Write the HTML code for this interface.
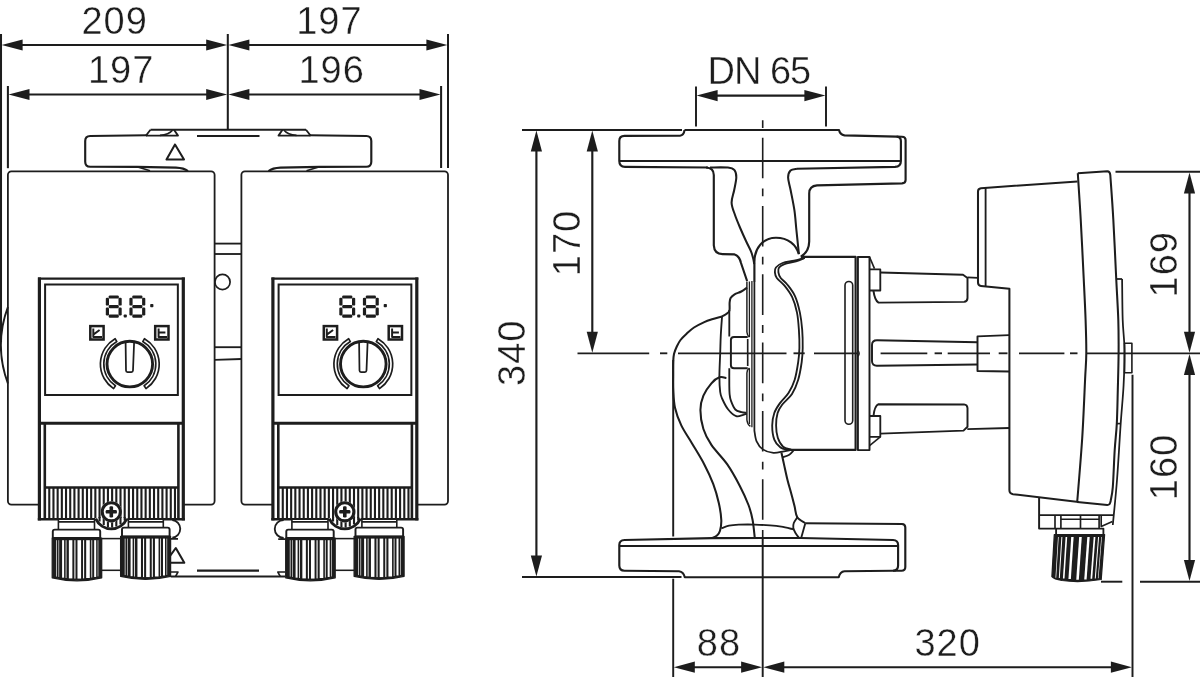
<!DOCTYPE html>
<html><head><meta charset="utf-8"><title>Dimension drawing</title>
<style>
html,body{margin:0;padding:0;background:#fff;}
svg{display:block}
text{font-family:"Liberation Sans",sans-serif;fill:#1d1d1b;stroke:#fff;stroke-width:0.4px;paint-order:fill stroke}
</style></head>
<body>
<svg width="1200" height="677" viewBox="0 0 1200 677" stroke="#1d1d1b" fill="none" stroke-linecap="butt" stroke-linejoin="round" style="filter:grayscale(1)">
<rect x="0" y="0" width="1200" height="677" fill="#fff" stroke="none"/>
<line x1="1" y1="34" x2="1" y2="342" stroke-width="2.05" />
<line x1="7.9" y1="86" x2="7.9" y2="168.2" stroke-width="2.05" />
<line x1="227.8" y1="34" x2="227.8" y2="130" stroke-width="2.05" />
<line x1="441.1" y1="86" x2="441.1" y2="168" stroke-width="2.05" />
<line x1="448" y1="34" x2="448" y2="168" stroke-width="2.05" />
<line x1="21.0" y1="45" x2="207.8" y2="45" stroke-width="2.15" />
<polygon points="1.60,45.00 22.60,39.40 22.60,50.60" fill="#1d1d1b" stroke="none"/>
<polygon points="227.20,45.00 206.20,39.40 206.20,50.60" fill="#1d1d1b" stroke="none"/>
<line x1="247.8" y1="45" x2="428.0" y2="45" stroke-width="2.15" />
<polygon points="228.40,45.00 249.40,39.40 249.40,50.60" fill="#1d1d1b" stroke="none"/>
<polygon points="447.40,45.00 426.40,39.40 426.40,50.60" fill="#1d1d1b" stroke="none"/>
<line x1="27.9" y1="94.5" x2="207.8" y2="94.5" stroke-width="2.15" />
<polygon points="8.50,94.50 29.50,88.90 29.50,100.10" fill="#1d1d1b" stroke="none"/>
<polygon points="227.20,94.50 206.20,88.90 206.20,100.10" fill="#1d1d1b" stroke="none"/>
<line x1="247.8" y1="94.5" x2="421.1" y2="94.5" stroke-width="2.15" />
<polygon points="228.40,94.50 249.40,88.90 249.40,100.10" fill="#1d1d1b" stroke="none"/>
<polygon points="440.50,94.50 419.50,88.90 419.50,100.10" fill="#1d1d1b" stroke="none"/>
<text x="114.6" y="33.6" font-size="38" text-anchor="middle" letter-spacing="1.0">209</text>
<text x="329.4" y="33.6" font-size="38" text-anchor="middle" letter-spacing="1.0">197</text>
<text x="121.2" y="83.3" font-size="38" text-anchor="middle" letter-spacing="1.0">197</text>
<text x="331.7" y="83.3" font-size="38" text-anchor="middle" letter-spacing="1.0">196</text>
<path d="M 147,135.3 L 90.2,136 Q 85.2,136 85.2,141 L 85.2,161.7 Q 85.2,166.7 90.2,166.7 L 137,166.8 L 176,167.6 Q 184,168 188,171" stroke-width="2.15" fill="none" />
<path d="M 137,166.8 L 150,170.8" stroke-width="1.65" fill="none" />
<path d="M 146,135.5 L 150.5,129.8 M 146,135.6 L 178,135.6 L 174,129.8" stroke-width="1.85" fill="none" />
<path d="M 160,135.4 Q 169,134.5 172.5,130.2" stroke-width="1.65" fill="none" />
<path d="M 309.5,135.3 L 366.3,136 Q 371.3,136 371.3,141 L 371.3,161.7 Q 371.3,166.7 366.3,166.7 L 319.5,166.8 L 280.5,167.6 Q 272.5,168 268.5,171" stroke-width="2.15" fill="none" />
<path d="M 319.5,166.8 L 306.5,170.8" stroke-width="1.65" fill="none" />
<path d="M 310.5,135.5 L 306.0,129.8 M 310.5,135.6 L 278.5,135.6 L 282.5,129.8" stroke-width="1.85" fill="none" />
<path d="M 296.5,135.4 Q 287.5,134.5 284.0,130.2" stroke-width="1.65" fill="none" />
<line x1="150.5" y1="129.8" x2="306" y2="129.8" stroke-width="2.05" />
<line x1="197" y1="136" x2="259.5" y2="136" stroke-width="2.05" />
<path d="M 175,144.5 L 166.5,159.5 L 184,159.5 Z" stroke-width="2.05" fill="none" />
<line x1="214.6" y1="243.6" x2="241.5" y2="243.6" stroke-width="1.85" />
<line x1="214.6" y1="254" x2="241.5" y2="254" stroke-width="1.85" />
<line x1="214.6" y1="347.2" x2="241.5" y2="347.2" stroke-width="1.85" />
<line x1="214.6" y1="359.8" x2="241.5" y2="359" stroke-width="1.85" />
<circle cx="222.5" cy="282" r="7.6" stroke-width="1.7"/>
<rect x="7.9" y="171.3" width="206.7" height="333.3" rx="3.5" fill="#fff" stroke-width="1.8"/>
<rect x="241.4" y="171.3" width="206.6" height="333.3" rx="3.5" fill="#fff" stroke-width="1.8"/>
<path d="M 7.9,307 Q -6.2,345 7.9,383.5" stroke-width="1.95" fill="none" />
<line x1="197" y1="570.6" x2="259" y2="570.6" stroke-width="2.05" />
<line x1="170.7" y1="576.5" x2="285" y2="576.5" stroke-width="2.05" />
<path d="M 170.7,572 L 178,572 L 175.5,576.5" stroke-width="1.55" fill="none" />
<path d="M 285,572 L 277.8,572 L 280.3,576.5" stroke-width="1.55" fill="none" />
<path d="M 175.8,548 L 184.3,562.8 L 165,562.8 Z" stroke-width="2.05" fill="none" />
<path d="M 172.3,520 A 8.9 8.9 0 0 1 172.3,537.7 M 170.7,538.9 L 178,538.9" stroke-width="1.85" fill="none" />
<path d="M 283.7,520 A 8.9 8.9 0 0 0 283.7,537.9 M 285.5,539.1 L 278.2,539.1" stroke-width="1.85" fill="none" />
<line x1="100.5" y1="538.6" x2="121.8" y2="538.6" stroke-width="1.55" />
<line x1="101.5" y1="570.3" x2="120.8" y2="570.3" stroke-width="1.55" />
<line x1="334.0" y1="538.6" x2="355.3" y2="538.6" stroke-width="1.55" />
<line x1="335.0" y1="570.3" x2="354.3" y2="570.3" stroke-width="1.55" />
<g transform="translate(0 0)">
<rect x="39.4" y="278.7" width="143.9" height="240.6" fill="#fff" stroke="none"/>
<line x1="39.4" y1="277.4" x2="39.4" y2="520.4" stroke-width="3.2" />
<line x1="183.3" y1="277.4" x2="183.3" y2="520.4" stroke-width="3.2" />
<line x1="38" y1="278.7" x2="184.8" y2="278.7" stroke-width="2.2" />
<rect x="45.1" y="284.5" width="132.75" height="110.5" stroke-width="2.0" stroke-linejoin="miter"/>
<line x1="39" y1="423.3" x2="184" y2="423.3" stroke-width="3.0" />
<line x1="44.8" y1="423" x2="44.8" y2="519.3" stroke-width="2.6" />
<line x1="178.4" y1="423" x2="178.4" y2="519.3" stroke-width="2.6" />
<line x1="44" y1="487.5" x2="179" y2="487.5" stroke-width="2.6" />
<rect x="48.22" y="487.5" width="2.1" height="30.8" fill="#1d1d1b" stroke="none"/>
<rect x="52.41" y="487.5" width="2.1" height="30.8" fill="#1d1d1b" stroke="none"/>
<rect x="56.60" y="487.5" width="2.1" height="30.8" fill="#1d1d1b" stroke="none"/>
<rect x="60.79" y="487.5" width="2.1" height="30.8" fill="#1d1d1b" stroke="none"/>
<rect x="64.98" y="487.5" width="2.1" height="30.8" fill="#1d1d1b" stroke="none"/>
<rect x="69.17" y="487.5" width="2.1" height="30.8" fill="#1d1d1b" stroke="none"/>
<rect x="73.36" y="487.5" width="2.1" height="30.8" fill="#1d1d1b" stroke="none"/>
<rect x="77.55" y="487.5" width="2.1" height="30.8" fill="#1d1d1b" stroke="none"/>
<rect x="81.74" y="487.5" width="2.1" height="30.8" fill="#1d1d1b" stroke="none"/>
<rect x="85.93" y="487.5" width="2.1" height="30.8" fill="#1d1d1b" stroke="none"/>
<rect x="90.12" y="487.5" width="2.1" height="30.8" fill="#1d1d1b" stroke="none"/>
<rect x="94.31" y="487.5" width="2.1" height="30.8" fill="#1d1d1b" stroke="none"/>
<rect x="98.50" y="487.5" width="2.1" height="30.8" fill="#1d1d1b" stroke="none"/>
<rect x="102.69" y="487.5" width="2.1" height="30.8" fill="#1d1d1b" stroke="none"/>
<rect x="106.88" y="487.5" width="2.1" height="30.8" fill="#1d1d1b" stroke="none"/>
<rect x="111.07" y="487.5" width="2.1" height="30.8" fill="#1d1d1b" stroke="none"/>
<rect x="115.26" y="487.5" width="2.1" height="30.8" fill="#1d1d1b" stroke="none"/>
<rect x="119.45" y="487.5" width="2.1" height="30.8" fill="#1d1d1b" stroke="none"/>
<rect x="123.64" y="487.5" width="2.1" height="30.8" fill="#1d1d1b" stroke="none"/>
<rect x="127.83" y="487.5" width="2.1" height="30.8" fill="#1d1d1b" stroke="none"/>
<rect x="132.02" y="487.5" width="2.1" height="30.8" fill="#1d1d1b" stroke="none"/>
<rect x="136.21" y="487.5" width="2.1" height="30.8" fill="#1d1d1b" stroke="none"/>
<rect x="140.40" y="487.5" width="2.1" height="30.8" fill="#1d1d1b" stroke="none"/>
<rect x="144.59" y="487.5" width="2.1" height="30.8" fill="#1d1d1b" stroke="none"/>
<rect x="148.78" y="487.5" width="2.1" height="30.8" fill="#1d1d1b" stroke="none"/>
<rect x="152.97" y="487.5" width="2.1" height="30.8" fill="#1d1d1b" stroke="none"/>
<rect x="157.16" y="487.5" width="2.1" height="30.8" fill="#1d1d1b" stroke="none"/>
<rect x="161.35" y="487.5" width="2.1" height="30.8" fill="#1d1d1b" stroke="none"/>
<rect x="165.54" y="487.5" width="2.1" height="30.8" fill="#1d1d1b" stroke="none"/>
<rect x="169.73" y="487.5" width="2.1" height="30.8" fill="#1d1d1b" stroke="none"/>
<rect x="173.92" y="487.5" width="2.1" height="30.8" fill="#1d1d1b" stroke="none"/>
<path d="M 95,518 L 95,521 A 17 17 0 0 0 127.6,521 L 127.6,518 Z" fill="#fff" stroke="none"/>
<path d="M 95.7,518.6 A 17 17 0 0 0 126.9,518.6" stroke-width="2.8" fill="none" />
<rect x="98.50" y="517" width="2.1" height="4.5" fill="#1d1d1b" stroke="none"/>
<rect x="102.69" y="517" width="2.1" height="8.0" fill="#1d1d1b" stroke="none"/>
<rect x="106.88" y="517" width="2.1" height="10.0" fill="#1d1d1b" stroke="none"/>
<rect x="111.07" y="517" width="2.1" height="10.6" fill="#1d1d1b" stroke="none"/>
<rect x="115.26" y="517" width="2.1" height="9.6" fill="#1d1d1b" stroke="none"/>
<rect x="119.45" y="517" width="2.1" height="7.4" fill="#1d1d1b" stroke="none"/>
<rect x="123.64" y="517" width="2.1" height="3.5" fill="#1d1d1b" stroke="none"/>
<circle cx="111.3" cy="511.8" r="10.6" fill="#fff" stroke="none"/>
<circle cx="111.3" cy="511.8" r="9.1" stroke-width="3.1"/>
<rect x="105.7" y="510.0" width="11.2" height="3.6" rx="1.2" fill="#1d1d1b" stroke="none"/><rect x="109.5" y="506.2" width="3.6" height="11.2" rx="1.2" fill="#1d1d1b" stroke="none"/>
<line x1="37.8" y1="519.2" x2="95.3" y2="519.2" stroke-width="2.6" />
<line x1="127.3" y1="519.2" x2="184.9" y2="519.2" stroke-width="2.6" />
<g fill="#1d1d1b" stroke="none"><rect x="108.68" y="295.40" width="10.14" height="3.2" rx="1.2"/><rect x="108.68" y="304.95" width="10.14" height="3.2" rx="1.2"/><rect x="108.68" y="314.50" width="10.14" height="3.2" rx="1.2"/><rect x="105.80" y="297.64" width="3.2" height="7.95" rx="1.2"/><rect x="105.80" y="307.51" width="3.2" height="7.95" rx="1.2"/><rect x="118.50" y="297.64" width="3.2" height="7.95" rx="1.2"/><rect x="118.50" y="307.51" width="3.2" height="7.95" rx="1.2"/></g>
<g fill="#1d1d1b" stroke="none"><rect x="132.28" y="295.40" width="10.14" height="3.2" rx="1.2"/><rect x="132.28" y="304.95" width="10.14" height="3.2" rx="1.2"/><rect x="132.28" y="314.50" width="10.14" height="3.2" rx="1.2"/><rect x="129.40" y="297.64" width="3.2" height="7.95" rx="1.2"/><rect x="129.40" y="307.51" width="3.2" height="7.95" rx="1.2"/><rect x="142.10" y="297.64" width="3.2" height="7.95" rx="1.2"/><rect x="142.10" y="307.51" width="3.2" height="7.95" rx="1.2"/></g>
<rect x="123.7" y="314.4" width="3.1" height="3.1" rx="0.8" fill="#1d1d1b" stroke="none"/>
<rect x="150.2" y="304" width="3.2" height="3.2" rx="0.8" fill="#1d1d1b" stroke="none"/>
<rect x="90.3" y="326.1" width="13.3" height="13.4" stroke-width="2.5" stroke-linejoin="miter"/>
<path d="M 93.3,328.6 L 93.3,337 L 102,337 M 93.6,334.4 L 99.6,330" stroke-width="1.95" fill="none" />
<rect x="155.2" y="326.1" width="13.3" height="13.4" stroke-width="2.5" stroke-linejoin="miter"/>
<path d="M 158.6,328.6 L 158.6,337 L 167,337 M 158.6,332.4 L 165.4,332.4" stroke-width="1.95" fill="none" />
<circle cx="129.8" cy="364.1" r="22.8" stroke-width="2.9"/>
<path d="M 125.6,342.5 L 126,370.5 Q 126,372 127.5,372 L 131.4,372 Q 132.9,372 133,370.5 L 134.1,342.5" stroke-width="1.75" fill="none" />
<path d="M 115.10,338.64 A 29.4 29.4 0 0 0 113.57,388.62 L 115.45,385.78 A 26.0 26.0 0 0 1 116.80,341.58 Z" stroke-width="1.7" fill="#fff" />
<path d="M 144.50,338.64 A 29.4 29.4 0 0 1 146.03,388.62 L 144.15,385.78 A 26.0 26.0 0 0 0 142.80,341.58 Z" stroke-width="1.7" fill="#fff" />
<rect x="58.4" y="519.3" width="36.10" height="11.30" fill="#fff" stroke-width="1.6"/>
<line x1="58.4" y1="521.9" x2="94.5" y2="521.9" stroke-width="1.85" />
<path d="M 52.8,538.0 L 52.8,531.6 Q 52.8,529.6 54.8,529.6 L 98.2,529.6 Q 100.2,529.6 100.2,531.6 L 100.2,538.0 Z" stroke-width="1.95" fill="#fff" />
<path d="M 52.2,538.0 L 101.7,538.0 L 101.7,577.8 Q 76.95,583.8 52.2,577.8 Z" stroke-width="1.25" fill="#1d1d1b" />
<rect x="56.30" y="540.20" width="0.7" height="36.38" fill="#fff" stroke="none"/>
<rect x="58.53" y="540.20" width="0.6" height="36.79" fill="#fff" stroke="none"/>
<rect x="62.09" y="540.20" width="2.0" height="37.46" fill="#fff" stroke="none"/>
<rect x="65.66" y="540.20" width="0.8" height="37.82" fill="#fff" stroke="none"/>
<rect x="68.86" y="540.20" width="3.5" height="38.20" fill="#fff" stroke="none"/>
<rect x="74.37" y="540.20" width="1.1" height="38.38" fill="#fff" stroke="none"/>
<rect x="77.48" y="540.20" width="3.6" height="38.37" fill="#fff" stroke="none"/>
<rect x="83.03" y="540.20" width="1.1" height="38.18" fill="#fff" stroke="none"/>
<rect x="86.19" y="540.20" width="3.6" height="37.80" fill="#fff" stroke="none"/>
<rect x="91.40" y="540.20" width="0.8" height="37.32" fill="#fff" stroke="none"/>
<rect x="94.17" y="540.20" width="2.0" height="36.77" fill="#fff" stroke="none"/>
<rect x="97.69" y="540.20" width="0.6" height="36.23" fill="#fff" stroke="none"/>
<rect x="128.4" y="519.3" width="34.90" height="9.30" fill="#fff" stroke-width="1.6"/>
<line x1="128.4" y1="521.9" x2="163.3" y2="521.9" stroke-width="1.85" />
<path d="M 122.0,536.4 L 122.0,529.6 Q 122.0,527.6 124.0,527.6 L 167.6,527.6 Q 169.6,527.6 169.6,529.6 L 169.6,536.4 Z" stroke-width="1.95" fill="#fff" />
<path d="M 120.6,536.4 L 170.6,536.4 L 170.6,576.3 Q 145.6,582.3 120.6,576.3 Z" stroke-width="1.25" fill="#1d1d1b" />
<rect x="124.75" y="538.60" width="0.7" height="36.48" fill="#fff" stroke="none"/>
<rect x="127.00" y="538.60" width="0.6" height="36.89" fill="#fff" stroke="none"/>
<rect x="130.60" y="538.60" width="2.0" height="37.56" fill="#fff" stroke="none"/>
<rect x="134.20" y="538.60" width="0.8" height="37.92" fill="#fff" stroke="none"/>
<rect x="137.45" y="538.60" width="3.5" height="38.30" fill="#fff" stroke="none"/>
<rect x="143.00" y="538.60" width="1.1" height="38.48" fill="#fff" stroke="none"/>
<rect x="146.15" y="538.60" width="3.6" height="38.47" fill="#fff" stroke="none"/>
<rect x="151.75" y="538.60" width="1.1" height="38.28" fill="#fff" stroke="none"/>
<rect x="154.95" y="538.60" width="3.6" height="37.90" fill="#fff" stroke="none"/>
<rect x="160.20" y="538.60" width="0.8" height="37.42" fill="#fff" stroke="none"/>
<rect x="163.00" y="538.60" width="2.0" height="36.87" fill="#fff" stroke="none"/>
<rect x="166.55" y="538.60" width="0.6" height="36.33" fill="#fff" stroke="none"/>
</g>
<g transform="translate(233.5 0)">
<rect x="39.4" y="278.7" width="143.9" height="240.6" fill="#fff" stroke="none"/>
<line x1="39.4" y1="277.4" x2="39.4" y2="520.4" stroke-width="3.2" />
<line x1="183.3" y1="277.4" x2="183.3" y2="520.4" stroke-width="3.2" />
<line x1="38" y1="278.7" x2="184.8" y2="278.7" stroke-width="2.2" />
<rect x="45.1" y="284.5" width="132.75" height="110.5" stroke-width="2.0" stroke-linejoin="miter"/>
<line x1="39" y1="423.3" x2="184" y2="423.3" stroke-width="3.0" />
<line x1="44.8" y1="423" x2="44.8" y2="519.3" stroke-width="2.6" />
<line x1="178.4" y1="423" x2="178.4" y2="519.3" stroke-width="2.6" />
<line x1="44" y1="487.5" x2="179" y2="487.5" stroke-width="2.6" />
<rect x="48.22" y="487.5" width="2.1" height="30.8" fill="#1d1d1b" stroke="none"/>
<rect x="52.41" y="487.5" width="2.1" height="30.8" fill="#1d1d1b" stroke="none"/>
<rect x="56.60" y="487.5" width="2.1" height="30.8" fill="#1d1d1b" stroke="none"/>
<rect x="60.79" y="487.5" width="2.1" height="30.8" fill="#1d1d1b" stroke="none"/>
<rect x="64.98" y="487.5" width="2.1" height="30.8" fill="#1d1d1b" stroke="none"/>
<rect x="69.17" y="487.5" width="2.1" height="30.8" fill="#1d1d1b" stroke="none"/>
<rect x="73.36" y="487.5" width="2.1" height="30.8" fill="#1d1d1b" stroke="none"/>
<rect x="77.55" y="487.5" width="2.1" height="30.8" fill="#1d1d1b" stroke="none"/>
<rect x="81.74" y="487.5" width="2.1" height="30.8" fill="#1d1d1b" stroke="none"/>
<rect x="85.93" y="487.5" width="2.1" height="30.8" fill="#1d1d1b" stroke="none"/>
<rect x="90.12" y="487.5" width="2.1" height="30.8" fill="#1d1d1b" stroke="none"/>
<rect x="94.31" y="487.5" width="2.1" height="30.8" fill="#1d1d1b" stroke="none"/>
<rect x="98.50" y="487.5" width="2.1" height="30.8" fill="#1d1d1b" stroke="none"/>
<rect x="102.69" y="487.5" width="2.1" height="30.8" fill="#1d1d1b" stroke="none"/>
<rect x="106.88" y="487.5" width="2.1" height="30.8" fill="#1d1d1b" stroke="none"/>
<rect x="111.07" y="487.5" width="2.1" height="30.8" fill="#1d1d1b" stroke="none"/>
<rect x="115.26" y="487.5" width="2.1" height="30.8" fill="#1d1d1b" stroke="none"/>
<rect x="119.45" y="487.5" width="2.1" height="30.8" fill="#1d1d1b" stroke="none"/>
<rect x="123.64" y="487.5" width="2.1" height="30.8" fill="#1d1d1b" stroke="none"/>
<rect x="127.83" y="487.5" width="2.1" height="30.8" fill="#1d1d1b" stroke="none"/>
<rect x="132.02" y="487.5" width="2.1" height="30.8" fill="#1d1d1b" stroke="none"/>
<rect x="136.21" y="487.5" width="2.1" height="30.8" fill="#1d1d1b" stroke="none"/>
<rect x="140.40" y="487.5" width="2.1" height="30.8" fill="#1d1d1b" stroke="none"/>
<rect x="144.59" y="487.5" width="2.1" height="30.8" fill="#1d1d1b" stroke="none"/>
<rect x="148.78" y="487.5" width="2.1" height="30.8" fill="#1d1d1b" stroke="none"/>
<rect x="152.97" y="487.5" width="2.1" height="30.8" fill="#1d1d1b" stroke="none"/>
<rect x="157.16" y="487.5" width="2.1" height="30.8" fill="#1d1d1b" stroke="none"/>
<rect x="161.35" y="487.5" width="2.1" height="30.8" fill="#1d1d1b" stroke="none"/>
<rect x="165.54" y="487.5" width="2.1" height="30.8" fill="#1d1d1b" stroke="none"/>
<rect x="169.73" y="487.5" width="2.1" height="30.8" fill="#1d1d1b" stroke="none"/>
<rect x="173.92" y="487.5" width="2.1" height="30.8" fill="#1d1d1b" stroke="none"/>
<path d="M 95,518 L 95,521 A 17 17 0 0 0 127.6,521 L 127.6,518 Z" fill="#fff" stroke="none"/>
<path d="M 95.7,518.6 A 17 17 0 0 0 126.9,518.6" stroke-width="2.8" fill="none" />
<rect x="98.50" y="517" width="2.1" height="4.5" fill="#1d1d1b" stroke="none"/>
<rect x="102.69" y="517" width="2.1" height="8.0" fill="#1d1d1b" stroke="none"/>
<rect x="106.88" y="517" width="2.1" height="10.0" fill="#1d1d1b" stroke="none"/>
<rect x="111.07" y="517" width="2.1" height="10.6" fill="#1d1d1b" stroke="none"/>
<rect x="115.26" y="517" width="2.1" height="9.6" fill="#1d1d1b" stroke="none"/>
<rect x="119.45" y="517" width="2.1" height="7.4" fill="#1d1d1b" stroke="none"/>
<rect x="123.64" y="517" width="2.1" height="3.5" fill="#1d1d1b" stroke="none"/>
<circle cx="111.3" cy="511.8" r="10.6" fill="#fff" stroke="none"/>
<circle cx="111.3" cy="511.8" r="9.1" stroke-width="3.1"/>
<rect x="105.7" y="510.0" width="11.2" height="3.6" rx="1.2" fill="#1d1d1b" stroke="none"/><rect x="109.5" y="506.2" width="3.6" height="11.2" rx="1.2" fill="#1d1d1b" stroke="none"/>
<line x1="37.8" y1="519.2" x2="95.3" y2="519.2" stroke-width="2.6" />
<line x1="127.3" y1="519.2" x2="184.9" y2="519.2" stroke-width="2.6" />
<g fill="#1d1d1b" stroke="none"><rect x="108.68" y="295.40" width="10.14" height="3.2" rx="1.2"/><rect x="108.68" y="304.95" width="10.14" height="3.2" rx="1.2"/><rect x="108.68" y="314.50" width="10.14" height="3.2" rx="1.2"/><rect x="105.80" y="297.64" width="3.2" height="7.95" rx="1.2"/><rect x="105.80" y="307.51" width="3.2" height="7.95" rx="1.2"/><rect x="118.50" y="297.64" width="3.2" height="7.95" rx="1.2"/><rect x="118.50" y="307.51" width="3.2" height="7.95" rx="1.2"/></g>
<g fill="#1d1d1b" stroke="none"><rect x="132.28" y="295.40" width="10.14" height="3.2" rx="1.2"/><rect x="132.28" y="304.95" width="10.14" height="3.2" rx="1.2"/><rect x="132.28" y="314.50" width="10.14" height="3.2" rx="1.2"/><rect x="129.40" y="297.64" width="3.2" height="7.95" rx="1.2"/><rect x="129.40" y="307.51" width="3.2" height="7.95" rx="1.2"/><rect x="142.10" y="297.64" width="3.2" height="7.95" rx="1.2"/><rect x="142.10" y="307.51" width="3.2" height="7.95" rx="1.2"/></g>
<rect x="123.7" y="314.4" width="3.1" height="3.1" rx="0.8" fill="#1d1d1b" stroke="none"/>
<rect x="150.2" y="304" width="3.2" height="3.2" rx="0.8" fill="#1d1d1b" stroke="none"/>
<rect x="90.3" y="326.1" width="13.3" height="13.4" stroke-width="2.5" stroke-linejoin="miter"/>
<path d="M 93.3,328.6 L 93.3,337 L 102,337 M 93.6,334.4 L 99.6,330" stroke-width="1.95" fill="none" />
<rect x="155.2" y="326.1" width="13.3" height="13.4" stroke-width="2.5" stroke-linejoin="miter"/>
<path d="M 158.6,328.6 L 158.6,337 L 167,337 M 158.6,332.4 L 165.4,332.4" stroke-width="1.95" fill="none" />
<circle cx="129.8" cy="364.1" r="22.8" stroke-width="2.9"/>
<path d="M 125.6,342.5 L 126,370.5 Q 126,372 127.5,372 L 131.4,372 Q 132.9,372 133,370.5 L 134.1,342.5" stroke-width="1.75" fill="none" />
<path d="M 115.10,338.64 A 29.4 29.4 0 0 0 113.57,388.62 L 115.45,385.78 A 26.0 26.0 0 0 1 116.80,341.58 Z" stroke-width="1.7" fill="#fff" />
<path d="M 144.50,338.64 A 29.4 29.4 0 0 1 146.03,388.62 L 144.15,385.78 A 26.0 26.0 0 0 0 142.80,341.58 Z" stroke-width="1.7" fill="#fff" />
<rect x="58.4" y="519.3" width="36.10" height="11.30" fill="#fff" stroke-width="1.6"/>
<line x1="58.4" y1="521.9" x2="94.5" y2="521.9" stroke-width="1.85" />
<path d="M 52.8,538.0 L 52.8,531.6 Q 52.8,529.6 54.8,529.6 L 98.2,529.6 Q 100.2,529.6 100.2,531.6 L 100.2,538.0 Z" stroke-width="1.95" fill="#fff" />
<path d="M 52.2,538.0 L 101.7,538.0 L 101.7,577.8 Q 76.95,583.8 52.2,577.8 Z" stroke-width="1.25" fill="#1d1d1b" />
<rect x="56.30" y="540.20" width="0.7" height="36.38" fill="#fff" stroke="none"/>
<rect x="58.53" y="540.20" width="0.6" height="36.79" fill="#fff" stroke="none"/>
<rect x="62.09" y="540.20" width="2.0" height="37.46" fill="#fff" stroke="none"/>
<rect x="65.66" y="540.20" width="0.8" height="37.82" fill="#fff" stroke="none"/>
<rect x="68.86" y="540.20" width="3.5" height="38.20" fill="#fff" stroke="none"/>
<rect x="74.37" y="540.20" width="1.1" height="38.38" fill="#fff" stroke="none"/>
<rect x="77.48" y="540.20" width="3.6" height="38.37" fill="#fff" stroke="none"/>
<rect x="83.03" y="540.20" width="1.1" height="38.18" fill="#fff" stroke="none"/>
<rect x="86.19" y="540.20" width="3.6" height="37.80" fill="#fff" stroke="none"/>
<rect x="91.40" y="540.20" width="0.8" height="37.32" fill="#fff" stroke="none"/>
<rect x="94.17" y="540.20" width="2.0" height="36.77" fill="#fff" stroke="none"/>
<rect x="97.69" y="540.20" width="0.6" height="36.23" fill="#fff" stroke="none"/>
<rect x="128.4" y="519.3" width="34.90" height="9.30" fill="#fff" stroke-width="1.6"/>
<line x1="128.4" y1="521.9" x2="163.3" y2="521.9" stroke-width="1.85" />
<path d="M 122.0,536.4 L 122.0,529.6 Q 122.0,527.6 124.0,527.6 L 167.6,527.6 Q 169.6,527.6 169.6,529.6 L 169.6,536.4 Z" stroke-width="1.95" fill="#fff" />
<path d="M 120.6,536.4 L 170.6,536.4 L 170.6,576.3 Q 145.6,582.3 120.6,576.3 Z" stroke-width="1.25" fill="#1d1d1b" />
<rect x="124.75" y="538.60" width="0.7" height="36.48" fill="#fff" stroke="none"/>
<rect x="127.00" y="538.60" width="0.6" height="36.89" fill="#fff" stroke="none"/>
<rect x="130.60" y="538.60" width="2.0" height="37.56" fill="#fff" stroke="none"/>
<rect x="134.20" y="538.60" width="0.8" height="37.92" fill="#fff" stroke="none"/>
<rect x="137.45" y="538.60" width="3.5" height="38.30" fill="#fff" stroke="none"/>
<rect x="143.00" y="538.60" width="1.1" height="38.48" fill="#fff" stroke="none"/>
<rect x="146.15" y="538.60" width="3.6" height="38.47" fill="#fff" stroke="none"/>
<rect x="151.75" y="538.60" width="1.1" height="38.28" fill="#fff" stroke="none"/>
<rect x="154.95" y="538.60" width="3.6" height="37.90" fill="#fff" stroke="none"/>
<rect x="160.20" y="538.60" width="0.8" height="37.42" fill="#fff" stroke="none"/>
<rect x="163.00" y="538.60" width="2.0" height="36.87" fill="#fff" stroke="none"/>
<rect x="166.55" y="538.60" width="0.6" height="36.33" fill="#fff" stroke="none"/>
</g>
<line x1="522" y1="130" x2="682" y2="130" stroke-width="1.95" />
<line x1="522" y1="577" x2="681.5" y2="577" stroke-width="1.95" />
<line x1="536.4" y1="150.0" x2="536.4" y2="557.0" stroke-width="2.15" />
<polygon points="536.40,130.60 530.80,151.60 542.00,151.60" fill="#1d1d1b" stroke="none"/>
<polygon points="536.40,576.40 530.80,555.40 542.00,555.40" fill="#1d1d1b" stroke="none"/>
<line x1="592.3" y1="150.0" x2="592.3" y2="333.3" stroke-width="2.15" />
<polygon points="592.30,130.60 586.70,151.60 597.90,151.60" fill="#1d1d1b" stroke="none"/>
<polygon points="592.30,352.70 586.70,331.70 597.90,331.70" fill="#1d1d1b" stroke="none"/>
<text x="524.6" y="352.7" font-size="38" text-anchor="middle" letter-spacing="1.0" transform="rotate(-90 524.6 352.7)">340</text>
<text x="580.2" y="243.0" font-size="38" text-anchor="middle" letter-spacing="1.0" transform="rotate(-90 580.2 243.0)">170</text>
<line x1="696" y1="86.4" x2="696" y2="126.6" stroke-width="1.95" />
<line x1="826" y1="86.4" x2="826" y2="126.6" stroke-width="1.95" />
<line x1="716.0" y1="95.6" x2="806.0" y2="95.6" stroke-width="2.15" />
<polygon points="696.60,95.60 717.60,90.00 717.60,101.20" fill="#1d1d1b" stroke="none"/>
<polygon points="825.40,95.60 804.40,90.00 804.40,101.20" fill="#1d1d1b" stroke="none"/>
<text x="758.9" y="84.0" font-size="38" text-anchor="middle" letter-spacing="-1.0">DN 65</text>
<line x1="577.5" y1="353.3" x2="649.2" y2="353.3" stroke-width="1.85" />
<line x1="660" y1="353.3" x2="667.3" y2="353.3" stroke-width="1.85" />
<line x1="678" y1="353.3" x2="786.5" y2="353.3" stroke-width="1.85" />
<line x1="793.5" y1="353.3" x2="804.7" y2="353.3" stroke-width="1.85" />
<line x1="814" y1="353.3" x2="858" y2="353.3" stroke-width="1.85" />
<line x1="880.6" y1="353.3" x2="927.3" y2="353.3" stroke-width="1.85" />
<line x1="934.6" y1="353.3" x2="942" y2="353.3" stroke-width="1.85" />
<line x1="947.7" y1="353.3" x2="990" y2="353.3" stroke-width="1.85" />
<line x1="998.7" y1="353.3" x2="1007.5" y2="353.3" stroke-width="1.85" />
<line x1="1019" y1="353.3" x2="1064.4" y2="353.3" stroke-width="1.85" />
<line x1="1070" y1="353.3" x2="1077.5" y2="353.3" stroke-width="1.85" />
<line x1="1086" y1="353.3" x2="1200" y2="353.3" stroke-width="1.85" />
<line x1="762.7" y1="120.2" x2="762.7" y2="537.5" stroke-width="1.6" stroke-dasharray="7.8 9.7 40.6 10.2"/>
<line x1="762.7" y1="537" x2="762.7" y2="677" stroke-width="1.95" />
<line x1="673.2" y1="360" x2="673.2" y2="536.5" stroke-width="1.95" />
<line x1="673.2" y1="578.7" x2="673.2" y2="677" stroke-width="1.95" />
<line x1="1132.5" y1="374.7" x2="1132.5" y2="677" stroke-width="1.95" />
<line x1="693.2" y1="667.2" x2="742.7" y2="667.2" stroke-width="2.15" />
<polygon points="673.80,667.20 694.80,661.60 694.80,672.80" fill="#1d1d1b" stroke="none"/>
<polygon points="762.10,667.20 741.10,661.60 741.10,672.80" fill="#1d1d1b" stroke="none"/>
<line x1="782.7" y1="667.2" x2="1112.5" y2="667.2" stroke-width="2.15" />
<polygon points="763.30,667.20 784.30,661.60 784.30,672.80" fill="#1d1d1b" stroke="none"/>
<polygon points="1131.90,667.20 1110.90,661.60 1110.90,672.80" fill="#1d1d1b" stroke="none"/>
<text x="718.9" y="656.2" font-size="38" text-anchor="middle" letter-spacing="1.0">88</text>
<text x="947.6" y="656.2" font-size="38" text-anchor="middle" letter-spacing="1.0">320</text>
<line x1="1115.5" y1="171.8" x2="1200" y2="171.8" stroke-width="1.95" />
<line x1="1101" y1="581.7" x2="1122.3" y2="581.7" stroke-width="1.95" />
<line x1="1140" y1="581.7" x2="1200" y2="581.7" stroke-width="1.95" />
<line x1="1189.5" y1="191.8" x2="1189.5" y2="333.3" stroke-width="2.15" />
<polygon points="1189.50,172.40 1183.90,193.40 1195.10,193.40" fill="#1d1d1b" stroke="none"/>
<polygon points="1189.50,352.70 1183.90,331.70 1195.10,331.70" fill="#1d1d1b" stroke="none"/>
<line x1="1189.5" y1="373.3" x2="1189.5" y2="561.7" stroke-width="2.15" />
<polygon points="1189.50,353.90 1183.90,374.90 1195.10,374.90" fill="#1d1d1b" stroke="none"/>
<polygon points="1189.50,581.10 1183.90,560.10 1195.10,560.10" fill="#1d1d1b" stroke="none"/>
<text x="1177.0" y="264.3" font-size="38" text-anchor="middle" letter-spacing="1.0" transform="rotate(-90 1177.0 264.3)">169</text>
<text x="1177.0" y="467" font-size="38" text-anchor="middle" letter-spacing="1.0" transform="rotate(-90 1177.0 467)">160</text>
<path d="M 684.5,130 L 839,130 Q 840,134.6 844.5,135.4 L 896.7,136.6 Q 900.9,136.8 900.9,141 L 900.9,161 Q 900.9,166.6 895,166.9 L 797,168.7" stroke-width="2.15" fill="none" />
<path d="M 684.5,130 Q 684,135.2 680,135.7 L 624.5,135.9 Q 619.3,136 619.3,141 L 619.3,161 Q 619.3,166.8 625,166.8 L 708,167.5" stroke-width="2.15" fill="none" />
<line x1="619.3" y1="161" x2="900.2" y2="161" stroke-width="2.05" />
<path d="M 896.7,136.6 L 902,136.7 Q 905.6,136.8 905.6,140 L 905.6,180 Q 905.6,183.2 902,183.4 L 817,185.4 Q 809.2,186 809.2,193.5 L 809.2,241.5 Q 809,252 800.8,256.6" stroke-width="2.15" fill="none" />
<path d="M 706,167.5 Q 713.8,167.8 713.8,175 L 713.8,245.4 Q 714.3,254 722.5,254.1 L 734.6,254.4 Q 739.5,256 741,263 L 747.1,281" stroke-width="2.15" fill="none" />
<path d="M 710.00,167.50 C 712.98,167.52 723.82,167.15 727.90,167.60 C 731.98,168.05 733.10,168.53 734.50,170.20 C 735.90,171.87 736.35,174.30 736.30,177.60 C 736.25,180.90 734.98,185.82 734.20,190.00 C 733.42,194.18 731.47,198.53 731.60,202.70 C 731.73,206.87 733.53,210.70 735.00,215.00 C 736.47,219.30 738.57,224.17 740.40,228.50 C 742.23,232.83 744.25,237.23 746.00,241.00 C 747.75,244.77 749.70,248.18 750.90,251.10 C 752.10,254.02 752.65,256.35 753.20,258.50 C 753.75,260.65 754.03,263.08 754.20,264.00" stroke-width="2.05" fill="none" />
<path d="M 797.00,168.70 C 795.92,169.00 791.98,169.02 790.50,170.50 C 789.02,171.98 788.08,174.35 788.10,177.60 C 788.12,180.85 789.55,184.57 790.60,190.00 C 791.65,195.43 793.43,203.53 794.40,210.20 C 795.37,216.87 795.65,222.70 796.40,230.00 C 797.15,237.30 798.48,250.00 798.90,254.00" stroke-width="2.05" fill="none" />
<path d="M 754.4,282 L 754.4,262 C 754.4,248 763,237.7 776,237.7 C 788,237.7 796.3,244.5 798.9,254.3" stroke-width="2.15" fill="none" />
<path d="M 800.8,256.9 L 855.6,256.9 L 855.6,449.9 L 786,449.9" stroke-width="2.15" fill="none" />
<path d="M 857.9,256.9 L 869.5,256.9 L 869.5,450.1 L 857.9,450.1 Z" stroke-width="1.95" fill="none" />
<path d="M 857.9,350.3 Q 860.6,353.3 857.9,356.3" stroke-width="1.25" fill="none" />
<rect x="845" y="281.5" width="7.7" height="142.8" rx="3.8" stroke-width="1.6"/>
<path d="M 804.70,257.90 C 802.93,258.37 797.78,259.85 794.10,260.70 C 790.42,261.55 785.63,261.87 782.60,263.00 C 779.57,264.13 777.18,265.95 775.90,267.50 C 774.62,269.05 774.75,270.55 774.90,272.30 C 775.05,274.05 775.20,275.77 776.80,278.00 C 778.40,280.23 781.93,282.50 784.50,285.70 C 787.07,288.90 790.12,292.72 792.20,297.20 C 794.28,301.68 795.88,307.15 797.00,312.60 C 798.12,318.05 798.50,324.00 798.90,329.90 C 799.30,335.80 799.52,342.65 799.40,348.00 C 799.28,353.35 798.98,356.72 798.20,362.00 C 797.42,367.28 796.32,374.53 794.70,379.70 C 793.08,384.87 791.02,389.02 788.50,393.00 C 785.98,396.98 781.97,400.27 779.60,403.60 C 777.23,406.93 775.53,409.37 774.30,413.00 C 773.07,416.63 772.20,420.97 772.20,425.40 C 772.20,429.83 772.92,435.90 774.30,439.60 C 775.68,443.30 778.28,445.88 780.50,447.60 C 782.72,449.32 786.42,449.52 787.60,449.90" stroke-width="1.85" fill="none" />
<path d="M 804.70,257.90 C 803.25,258.47 799.37,260.25 796.00,261.30 C 792.63,262.35 787.32,263.17 784.50,264.20 C 781.68,265.23 780.12,266.15 779.10,267.50 C 778.08,268.85 778.13,270.55 778.40,272.30 C 778.67,274.05 779.20,275.93 780.70,278.00 C 782.20,280.07 785.00,281.65 787.40,284.70 C 789.80,287.75 793.02,291.65 795.10,296.30 C 797.18,300.95 798.72,307.00 799.90,312.60 C 801.08,318.20 801.73,324.00 802.20,329.90 C 802.67,335.80 802.78,342.65 802.70,348.00 C 802.62,353.35 802.45,356.72 801.70,362.00 C 800.95,367.28 799.82,374.38 798.20,379.70 C 796.58,385.02 794.65,389.77 792.00,393.90 C 789.35,398.03 784.70,401.32 782.30,404.50 C 779.90,407.68 778.63,409.52 777.60,413.00 C 776.57,416.48 776.07,421.27 776.10,425.40 C 776.13,429.53 776.63,434.25 777.80,437.80 C 778.97,441.35 780.88,444.73 783.10,446.70 C 785.32,448.67 789.77,449.12 791.10,449.60" stroke-width="1.85" fill="none" />
<line x1="751.9" y1="281" x2="751.9" y2="427.2" stroke-width="1.3" />
<path d="M 749.4,281.5 L 749.4,337 M 749.4,368.3 L 749.4,424" stroke-width="1.3" fill="none" />
<path d="M 746.9,281.5 L 746.9,332 Q 747.1,335.5 749.4,337.2 M 749.4,368 Q 747.1,369.5 746.9,373 L 746.9,420 Q 747.4,424.5 750.4,426.3" stroke-width="1.45" fill="none" />
<path d="M 754.4,282 L 754.4,430.8 L 754.40,430.80 C 754.77,432.57 755.20,438.30 756.60,441.40 C 758.00,444.50 760.00,447.48 762.80,449.40 C 765.60,451.32 769.87,452.58 773.40,452.90 C 776.93,453.22 780.90,451.80 784.00,451.30 C 787.10,450.80 790.67,450.13 792.00,449.90" stroke-width="1.75" fill="none" />
<path d="M 747.7,336.9 L 734,336.9 Q 730.9,336.9 730.9,340 L 730.9,365.2 Q 730.9,368.2 734,368.2 L 747.7,368.2" stroke-width="1.95" fill="none" />
<line x1="747.7" y1="339" x2="747.7" y2="366" stroke-width="1.65" />
<path d="M 747.10,287.60 C 746.13,288.25 743.38,290.38 741.30,291.50 C 739.22,292.62 736.38,293.22 734.60,294.30 C 732.82,295.38 731.43,296.55 730.60,298.00 C 729.77,299.45 729.80,300.88 729.60,303.00 C 729.40,305.12 730.00,308.83 729.40,310.70 C 728.80,312.57 727.38,313.18 726.00,314.20 C 724.62,315.22 721.92,316.37 721.10,316.80" stroke-width="2.05" fill="none" />
<line x1="729.3" y1="310" x2="729.3" y2="336.5" stroke-width="1.85" />
<path d="M 721.10,316.80 C 719.58,317.22 714.80,318.42 712.00,319.30 C 709.20,320.18 707.30,320.73 704.30,322.10 C 701.30,323.47 696.95,325.57 694.00,327.50 C 691.05,329.43 688.85,331.62 686.60,333.70 C 684.35,335.78 682.13,337.87 680.50,340.00 C 678.87,342.13 677.88,344.17 676.80,346.50 C 675.72,348.83 674.60,351.42 674.00,354.00 C 673.40,356.58 673.35,358.50 673.20,362.00 C 673.05,365.50 673.10,370.33 673.10,375.00 C 673.10,379.67 672.88,384.55 673.20,390.00 C 673.52,395.45 673.65,401.80 675.00,407.70 C 676.35,413.60 678.48,419.48 681.30,425.40 C 684.12,431.32 688.07,436.70 691.90,443.20 C 695.73,449.70 700.75,457.62 704.30,464.40 C 707.85,471.18 710.78,477.47 713.20,483.90 C 715.62,490.33 717.45,496.98 718.80,503.00 C 720.15,509.02 721.10,515.38 721.30,520.00 C 721.50,524.62 720.72,528.12 720.00,530.70 C 719.28,533.28 718.33,534.27 717.00,535.50 C 715.67,536.73 712.83,537.67 712.00,538.10" stroke-width="2.05" fill="none" />
<path d="M 722.00,317.00 C 721.80,320.00 721.10,329.00 720.80,335.00 C 720.50,341.00 720.43,346.13 720.20,353.00 C 719.97,359.87 719.40,369.70 719.40,376.20 C 719.40,382.70 719.72,388.20 720.20,392.00 C 720.68,395.80 720.97,396.08 722.30,399.00 C 723.63,401.92 725.88,406.63 728.20,409.50 C 730.52,412.37 733.68,415.32 736.20,416.20 C 738.72,417.08 741.53,415.23 743.30,414.80 C 745.07,414.37 746.22,413.80 746.80,413.60" stroke-width="1.85" fill="none" />
<path d="M 729.30,368.20 C 729.30,371.00 729.25,380.70 729.30,385.00 C 729.35,389.30 729.33,391.40 729.60,394.00 C 729.87,396.60 729.95,398.02 730.90,400.60 C 731.85,403.18 733.53,407.58 735.30,409.50 C 737.07,411.42 739.63,411.55 741.50,412.10 C 743.37,412.65 745.67,412.68 746.50,412.80" stroke-width="1.85" fill="none" />
<path d="M 726.40,378.00 C 725.23,377.88 721.90,376.42 719.40,377.30 C 716.90,378.18 714.07,380.23 711.40,383.30 C 708.73,386.37 705.23,391.27 703.40,395.70 C 701.57,400.13 700.40,404.35 700.40,409.90 C 700.40,415.45 701.57,423.17 703.40,429.00 C 705.23,434.83 707.42,439.00 711.40,444.90 C 715.38,450.80 722.58,457.60 727.30,464.40 C 732.02,471.20 736.17,478.93 739.70,485.70 C 743.23,492.47 746.35,499.28 748.50,505.00 C 750.65,510.72 751.57,514.62 752.60,520.00 C 753.63,525.38 754.35,534.42 754.70,537.30" stroke-width="2.05" fill="none" />
<path d="M 793.80,450.20 C 793.05,450.95 791.17,453.52 789.30,454.70 C 787.43,455.88 783.72,456.87 782.60,457.30" stroke-width="1.75" fill="none" />
<path d="M 781.40,452.50 C 781.83,454.48 782.98,459.82 784.00,464.40 C 785.02,468.98 786.32,475.23 787.50,480.00 C 788.68,484.77 789.93,488.67 791.10,493.00 C 792.27,497.33 793.47,501.95 794.50,506.00 C 795.53,510.05 795.50,514.47 797.30,517.30 C 799.10,520.13 803.97,522.05 805.30,523.00" stroke-width="2.05" fill="none" />
<path d="M 797.30,517.30 C 796.72,518.25 794.47,521.22 793.80,523.00 C 793.13,524.78 793.02,526.33 793.30,528.00 C 793.58,529.67 794.60,531.40 795.50,533.00 C 796.40,534.60 798.17,536.83 798.70,537.60" stroke-width="1.85" fill="none" />
<line x1="805.3" y1="523.2" x2="801.3" y2="537.6" stroke-width="1.85" />
<path d="M 721.30,528.40 C 722.58,527.95 726.10,526.32 729.00,525.70 C 731.90,525.08 734.42,524.88 738.70,524.70 C 742.98,524.52 749.48,524.48 754.70,524.60 C 759.92,524.72 765.57,525.05 770.00,525.40 C 774.43,525.75 777.42,526.05 781.30,526.70 C 785.18,527.35 791.30,528.87 793.30,529.30" stroke-width="1.85" fill="none" />
<path d="M 712,538.1 L 624.5,540 Q 619.3,540.2 619.3,545 L 619.3,565.5 Q 619.3,570.7 624.5,570.7 L 679,571.2 Q 683.5,571.8 684.8,577.2 L 838.7,577.2 Q 840,571.6 844.5,571.2 L 893,570.7 Q 898.1,570.7 898.1,565.5 L 898.1,545 Q 898.1,540.2 893,540 L 801,538 L 712,538.1" stroke-width="2.15" fill="none" />
<line x1="619.3" y1="545.9" x2="898.1" y2="545.9" stroke-width="2.05" />
<path d="M 805.3,523.2 L 902,524 Q 905.3,524.1 905.3,527.5 L 905.3,567 Q 905.3,570.7 901.5,570.7 L 893,570.7" stroke-width="2.15" fill="none" />
<path d="M 869.5,269.4 L 880.3,269.4 L 880.3,290.5 L 869.5,290.5" stroke-width="1.85" fill="none" />
<path d="M 869.5,257 L 874.5,268.6" stroke-width="1.65" fill="none" />
<path d="M 880.3,272.5 L 963,274.8 L 967.5,278 L 967.5,298.1 Q 967.3,301.6 964,301.9 L 878.5,302.6 Q 874.8,300.5 873.4,290.5" stroke-width="1.95" fill="none" />
<line x1="967.5" y1="277.4" x2="978" y2="277.8" stroke-width="1.85" />
<path d="M 977.5,342.2 L 877,340.3 Q 872,340.3 872,345 L 872,361 Q 872,365.8 877,365.7 L 977.5,364.5" stroke-width="1.95" fill="none" />
<path d="M 1009,335.1 L 977.5,336.4 L 977.5,371 L 1009,371.5" stroke-width="1.95" fill="none" />
<path d="M 869.5,416 L 880.3,416 L 880.3,436.8 L 869.5,436.8" stroke-width="1.85" fill="none" />
<path d="M 880.3,436.8 L 869.6,445.6" stroke-width="1.55" fill="none" />
<path d="M 873.5,416 Q 874.5,406 878.5,404.2 L 964,404.4 Q 967.3,404.6 967.5,408 L 967.5,426.8 L 963.5,430.6 L 880.3,433.6" stroke-width="1.95" fill="none" />
<line x1="967.3" y1="429.2" x2="1009.4" y2="428" stroke-width="1.85" />
<path d="M 1077.5,181.4 L 981,188.2 Q 978,188.5 978,191.5 L 978,282.5 Q 978,285.6 981,285.9 L 1009.4,288.8 L 1009.4,490 Q 1009.4,493.6 1013,494.2 L 1078.6,502" stroke-width="2.05" fill="none" />
<line x1="985.6" y1="188" x2="985.6" y2="286.6" stroke-width="1.85" />
<path d="M 1077.80,173.30 C 1078.28,180.95 1079.72,201.70 1080.70,219.20 C 1081.68,236.70 1082.88,261.50 1083.70,278.30 C 1084.52,295.10 1085.17,307.55 1085.60,320.00 C 1086.03,332.45 1086.38,343.13 1086.30,353.00 C 1086.22,362.87 1085.78,364.98 1085.10,379.20 C 1084.42,393.42 1083.52,417.83 1082.20,438.30 C 1080.88,458.77 1078.03,491.38 1077.20,502.00" stroke-width="2.05" fill="none" />
<path d="M 1110.30,175.00 C 1110.80,182.37 1112.32,201.98 1113.30,219.20 C 1114.28,236.42 1115.37,261.50 1116.20,278.30 C 1117.03,295.10 1117.90,307.55 1118.30,320.00 C 1118.70,332.45 1118.68,341.33 1118.60,353.00 C 1118.52,364.67 1118.10,378.23 1117.80,390.00 C 1117.50,401.77 1117.32,413.60 1116.80,423.60 C 1116.28,433.60 1115.37,439.40 1114.70,450.00 C 1114.03,460.60 1113.48,478.70 1112.80,487.20 C 1112.12,495.70 1110.97,498.70 1110.60,501.00" stroke-width="2.05" fill="none" />
<path d="M 1077.8,173.3 L 1107.3,171.2 Q 1110,171.2 1110.3,175" stroke-width="2.05" fill="none" />
<path d="M 1077.2,502 L 1107.3,505 Q 1110.2,505 1110.6,501" stroke-width="2.05" fill="none" />
<path d="M 1116.2,279 L 1122.1,279" stroke-width="1.75" fill="none" />
<path d="M 1122.10,279.00 C 1122.20,285.83 1122.30,308.23 1122.70,320.00 C 1123.10,331.77 1124.35,338.77 1124.50,349.60 C 1124.65,360.43 1124.23,372.67 1123.60,385.00 C 1122.97,397.33 1121.80,407.77 1120.70,423.60 C 1119.60,439.43 1118.32,463.10 1117.00,480.00 C 1115.68,496.90 1113.50,517.50 1112.80,525.00" stroke-width="1.75" fill="none" />
<line x1="1116.8" y1="423.6" x2="1120.7" y2="423.6" stroke-width="1.65" />
<rect x="1124.5" y="343.2" width="7.4" height="29.5" stroke-width="1.6"/>
<path d="M 1039.1,497.9 L 1039.1,528.6 L 1056,528.6" stroke-width="1.95" fill="none" />
<line x1="1039.1" y1="515.1" x2="1113.4" y2="515.1" stroke-width="1.85" />
<path d="M 1055,515.1 L 1055,528.6 M 1060.9,515.1 L 1060.9,528.6 M 1080.5,515.1 L 1080.5,528.6 M 1099.1,515.1 L 1099.1,528.6 M 1060.9,519.2 L 1099.1,519.2 M 1101.2,515.1 L 1101.2,526.5 L 1112.4,521.5" stroke-width="1.65" fill="none" />
<path d="M 1056.1,534.5 L 1056.1,528.6 L 1103.4,528.6 L 1103.4,534.5" stroke-width="1.85" fill="none" />
<path d="M 1054.3,534.5 L 1104.6,534.5 L 1101.2,579.5 Q 1080,583 1062,580.5 Q 1054,579 1051.9,576.5 Z" stroke-width="1.25" fill="#1d1d1b" />
<path d="M 1057.97,537 L 1058.67,537 L 1056.19,577.74 L 1055.49,577.74 Z" stroke-width="0" fill="#fff" stroke="none"/>
<path d="M 1061.35,537 L 1062.35,537 L 1059.80,578.08 L 1058.80,578.08 Z" stroke-width="0" fill="#fff" stroke="none"/>
<path d="M 1065.57,537 L 1067.17,537 L 1064.53,578.51 L 1062.93,578.51 Z" stroke-width="0" fill="#fff" stroke="none"/>
<path d="M 1071.21,537 L 1073.61,537 L 1070.85,579.09 L 1068.45,579.09 Z" stroke-width="0" fill="#fff" stroke="none"/>
<path d="M 1079.16,537 L 1081.76,537 L 1078.84,579.86 L 1076.24,579.86 Z" stroke-width="0" fill="#fff" stroke="none"/>
<path d="M 1087.30,537 L 1089.70,537 L 1086.62,579.38 L 1084.22,579.38 Z" stroke-width="0" fill="#fff" stroke="none"/>
<path d="M 1093.69,537 L 1095.39,537 L 1092.19,578.80 L 1090.49,578.80 Z" stroke-width="0" fill="#fff" stroke="none"/>
<path d="M 1098.06,537 L 1099.06,537 L 1095.78,578.42 L 1094.78,578.42 Z" stroke-width="0" fill="#fff" stroke="none"/>
<path d="M 1101.28,537 L 1101.88,537 L 1098.54,578.13 L 1097.94,578.13 Z" stroke-width="0" fill="#fff" stroke="none"/>
</svg>
</body></html>
